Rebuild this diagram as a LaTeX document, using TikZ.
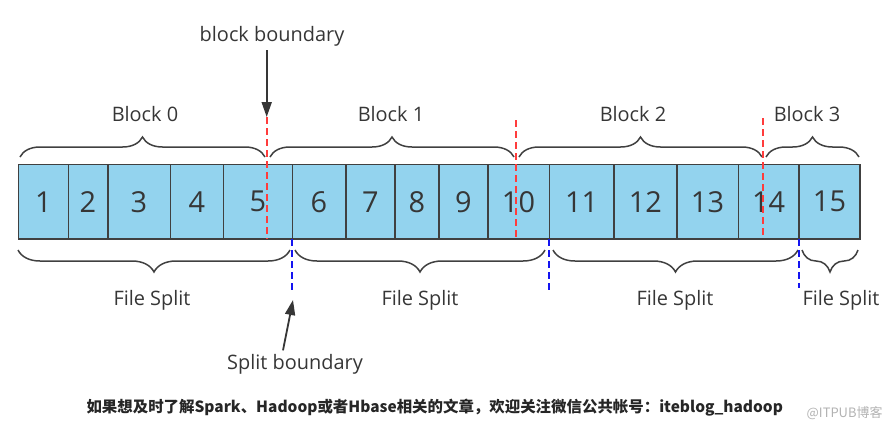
\documentclass[tikz,border=0pt]{standalone}
\usepackage{fontspec}
\setmainfont{Open Sans}
\newfontfamily\cjk{Noto Sans CJK SC}
\usetikzlibrary{decorations.pathreplacing,arrows.meta}
\definecolor{cellblue}{HTML}{93D3EE}
\definecolor{linegray}{HTML}{404040}
\definecolor{txtgray}{HTML}{363636}
\definecolor{blkred}{HTML}{FF3C3C}
\definecolor{splitblue}{HTML}{1414F0}
\begin{document}
\begin{tikzpicture}[x=1bp,y=-1bp]
        \useasboundingbox (0,0) rectangle (890,431);
        \tikzstyle{cell}=[draw=linegray, line width=1.6bp, fill=cellblue, minimum height=74.5bp, inner sep=0pt, text=txtgray, font=\fontsize{29}{29}\selectfont]
        \tikzstyle{label}=[anchor=base, text=txtgray, font=\fontsize{20}{20}\selectfont]
        \tikzstyle{topbrace}=[decorate, decoration={brace, amplitude=20bp}, draw=linegray, line width=1.5bp]
        \tikzstyle{botbrace}=[decorate, decoration={brace, mirror, amplitude=22bp}, draw=linegray, line width=1.5bp]
        \tikzstyle{blockline}=[draw=blkred, line width=1.8bp, dash pattern=on 7bp off 4bp]
        \tikzstyle{splitline}=[draw=splitblue, line width=1.8bp, dash pattern=on 7bp off 4bp]
        \tikzstyle{pointer}=[-{Triangle[length=15bp,width=10bp]}, draw=txtgray, fill=txtgray, line width=1.8bp]
        \node[cell, minimum width=49.8bp] (c1)  at (43.4,  201.75) {1};
        \node[cell, minimum width=39.4bp] (c2)  at (88,    201.75) {2};
        \node[cell, minimum width=62.6bp] (c3)  at (139,   201.75) {3};
        \node[cell, minimum width=53bp]   (c4)  at (196.8, 201.75) {4};
        \node[cell, minimum width=69bp]   (c5)  at (257.8, 201.75) {5};
        \node[cell, minimum width=53.4bp] (c6)  at (319,   201.75) {6};
        \node[cell, minimum width=49.3bp] (c7)  at (370.35,201.75) {7};
        \node[cell, minimum width=44bp]   (c8)  at (417,   201.75) {8};
        \node[cell, minimum width=48.7bp] (c9)  at (463.35,201.75) {9};
        \node[cell, minimum width=61.6bp] (c10) at (518.5, 201.75) {10};
        \node[cell, minimum width=64.7bp] (c11) at (581.65,201.75) {11};
        \node[cell, minimum width=62.7bp] (c12) at (645.35,201.75) {12};
        \node[cell, minimum width=61.6bp] (c13) at (707.5, 201.75) {13};
        \node[cell, minimum width=60.7bp] (c14) at (768.65,201.75) {14};
        \node[cell, minimum width=61bp]   (c15) at (829.5, 201.75) {15};
        \draw[topbrace] (20,157)  -- (265,157);
        \draw[topbrace] (270,157) -- (514,157);
        \draw[topbrace] (519,157) -- (762,157);
        \draw[topbrace] (766,157) -- (859,157);
        \node[label] (blk0) at (145,121.7) {Block 0};
        \node[label] (blk1) at (391,121.7) {Block 1};
        \node[label] (blk2) at (633,121.7) {Block 2};
        \node[label] (blk3) at (807,121.7) {Block 3};
        \draw[botbrace] (18,250)  -- (290,250);
        \draw[botbrace] (295,250) -- (545,250);
        \draw[botbrace] (553,250) -- (798,250);
        \draw[botbrace] (802,250) -- (858,250);
        \node[label] (fs1) at (152,305) {File Split};
        \node[label] (fs2) at (420,305) {File Split};
        \node[label] (fs3) at (675,305) {File Split};
        \node[label] (fs4) at (841,305) {File Split};
        \coordinate (red1top) at (266.7,117);
        \coordinate (red1bot) at (266.7,239);
        \coordinate (red2top) at (516,120);
        \coordinate (red2bot) at (516,239);
        \coordinate (red3top) at (763.3,118);
        \coordinate (red3bot) at (763.3,239);
        \draw[blockline] (red1top) -- (red1bot);
        \draw[blockline] (red2top) -- (red2bot);
        \draw[blockline] (red3top) -- (red3bot);
        \coordinate (blue1top) at (292.3,239);
        \coordinate (blue1bot) at (292.3,292);
        \coordinate (blue2top) at (549.3,239);
        \coordinate (blue2bot) at (549.3,290);
        \coordinate (blue3top) at (799,239);
        \coordinate (blue3bot) at (799,288);
        \draw[splitline] (blue1top) -- (blue1bot);
        \draw[splitline] (blue2top) -- (blue2bot);
        \draw[splitline] (blue3top) -- (blue3bot);
        \node[label] (bb) at (272,41.7) {block boundary};
        \node[label] (sb) at (295,369) {Split boundary};
        \coordinate (sbtip) at (293,300);
        \draw[pointer] (bb.south -| red1top) -- (red1top);
        \draw[pointer] ([xshift=-12bp]sb.north) -- (sbtip);
        \node[anchor=west, font=\cjk\bfseries\fontsize{15.5}{15.5}\selectfont, text=black!85] (note) at (83,408) {如果想及时了解Spark、Hadoop或者Hbase相关的文章，欢迎关注微信公共帐号：iteblog\_hadoop};
        \node[anchor=east, font=\cjk\fontsize{13}{13}\selectfont, text=black!30] (mark) at (886,413) {@ITPUB博客};
\end{tikzpicture}
\end{document}
